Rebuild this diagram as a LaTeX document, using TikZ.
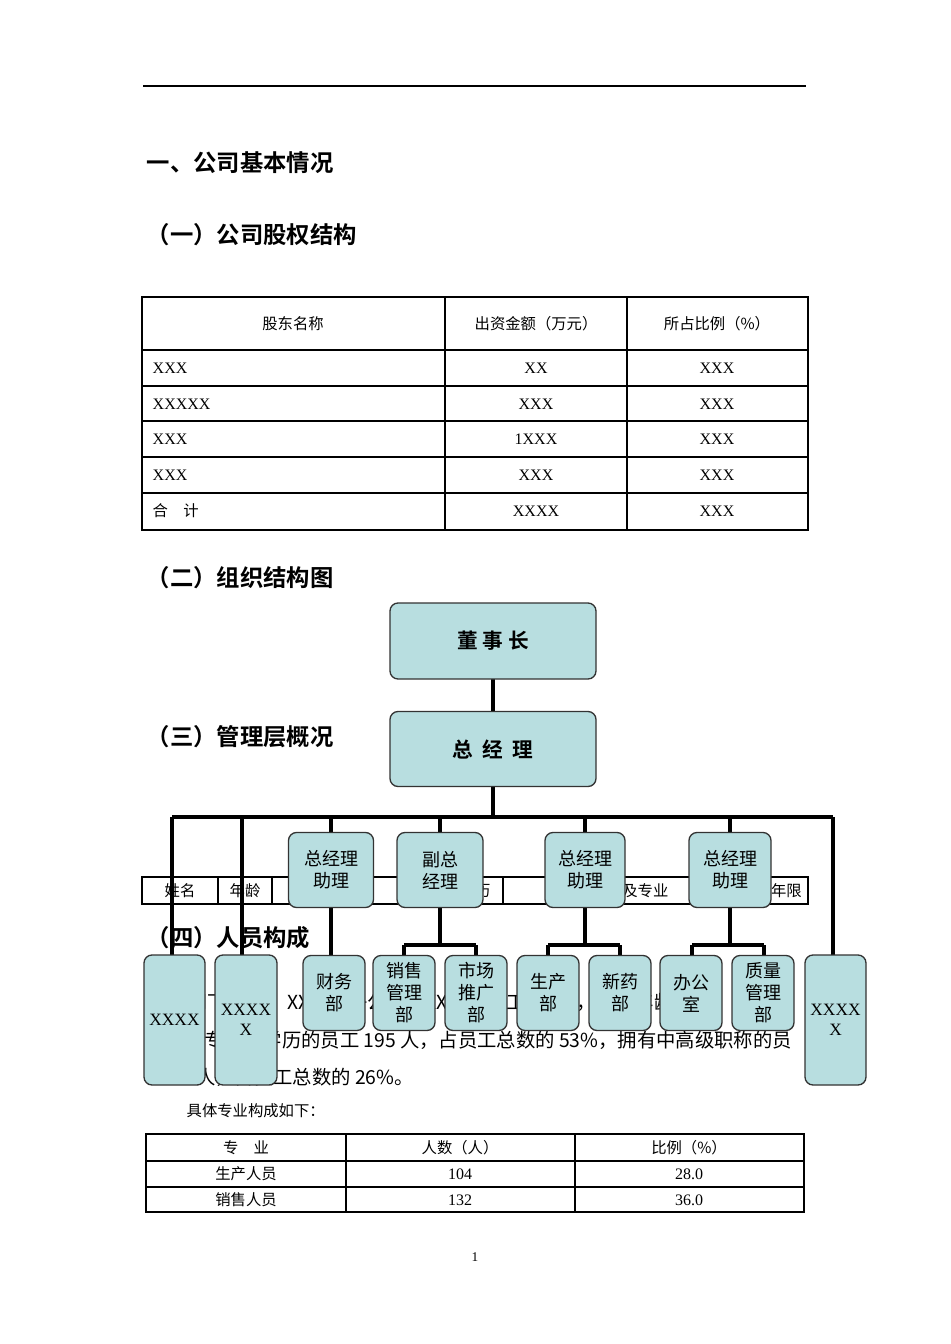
\documentclass[tikz,border=0pt]{standalone}
\usepackage{fontspec}
\setmainfont{Liberation Serif}
\newfontfamily\cjk{Noto Sans CJK SC}
\newfontfamily\cjkb{Noto Sans CJK SC Bold}
\begin{document}
\begin{tikzpicture}[x=0.75pt,y=-0.75pt,
  hd/.style={anchor=west,font=\cjkb\fontsize{17.5}{19}\selectfont},
  tx/.style={font=\cjk\fontsize{11.5}{12}\selectfont},
  bt/.style={font=\fontsize{12}{12}\selectfont},
  para/.style={anchor=west,font=\cjk\fontsize{14.5}{15}\selectfont},
  org/.style={draw=black!80,line width=1pt,fill={rgb,255:red,184;green,222;blue,224},rounded corners=6pt,inner sep=0pt,align=center},
  ot/.style={font=\cjk\fontsize{13.5}{16.5}\selectfont},
  conn/.style={line width=3pt}]
\useasboundingbox (0,0) rectangle (950,1344);
\fill[white] (0,0) rectangle (950,1344);
\draw[line width=0.8pt] (143,86) -- (806,86);
\node[hd] (h1) at (142,163) {一、公司基本情况};
\node[hd] (h2) at (142,235) {（一）公司股权结构};
% table 1
\draw[line width=1.5pt] (142,297) rectangle (808,530);
\foreach \y in {350,386,421,457,493} \draw[line width=0.8pt] (142,\y) -- (808,\y);
\foreach \x in {445,627} \draw[line width=0.8pt] (\x,297) -- (\x,530);
\node[tx] (c1) at (293,324) {股东名称};
\node[tx] (c2) at (536,324) {出资金额（万元）};
\node[tx] (c3) at (717,324) {所占比例（\%）};
\foreach \y/\a/\b [count=\i] in {368/XXX/XX,404/XXXXX/XXX,439/XXX/1XXX,475/XXX/XXX} {
  \node[bt,anchor=west] (ra\i) at (148,\y) {\a};
  \node[bt] (rb\i) at (536,\y) {\b};
  \node[bt] (rc\i) at (717,\y) {XXX};
}
\node[tx,anchor=west] (ra5) at (148,511) {合\quad 计};
\node[bt] (rb5) at (536,511) {XXXX};
\node[bt] (rc5) at (717,511) {XXX};
\node[hd] (h3) at (142,578) {（二）组织结构图};
\node[hd] (h4) at (142,737) {（三）管理层概况};
% table 2 header row
\draw[line width=1.5pt] (142,877) rectangle (808,904);
\foreach \x in {218,272,420,503,565,745} \draw[line width=0.8pt] (\x,877) -- (\x,904);
\node[tx] (t1) at (180,891) {姓名};
\node[tx] (t2) at (245,891) {年龄};
\node[tx] (t3) at (346,891) {职务};
\node[tx] (t4) at (475,891) {学历};
\node[tx] (t5) at (630,891) {职称及专业};
\node[tx] (t6) at (771,891) {工作年限};
\node[hd] (h5) at (142,938) {（四）人员构成};
\node[para] (p1) at (142,1002) {XX公司下属XX、XX两个子公司，XX现有员工370人，平均年龄35};
\node[para] (p2) at (142,1040) {其中大专以上学历的员工 195 人，占员工总数的 53\%，拥有中高级职称的员};
\node[para] (p3) at (142,1077) {工 96 人，占员工总数的 26\%。};
\node[tx,anchor=west] (p4) at (182,1111) {具体专业构成如下：};
% table 3
\draw[line width=1.5pt] (146,1134) rectangle (804,1212);
\foreach \y in {1161,1187} \draw[line width=0.8pt] (146,\y) -- (804,\y);
\foreach \x in {346,575} \draw[line width=0.8pt] (\x,1134) -- (\x,1212);
\node[tx] (u1) at (246,1148) {专\quad 业};
\node[tx] (u2) at (460,1148) {人数（人）};
\node[tx] (u3) at (689,1148) {比例（\%）};
\node[tx] (v1) at (246,1174) {生产人员};
\node[bt] (v2) at (460,1174) {104};
\node[bt] (v3) at (689,1174) {28.0};
\node[tx] (w1) at (246,1200) {销售人员};
\node[bt] (w2) at (460,1200) {132};
\node[bt] (w3) at (689,1200) {36.0};
\node[bt,font=\fontsize{10}{11}\selectfont] (pg) at (475,1257) {1};
% org chart lines
\draw[conn] (172,817) -- (833,817);
\draw[conn] (493,679) -- (493,817);
\draw[conn] (172,817) -- (172,955);
\draw[conn] (242,817) -- (242,955);
\draw[conn] (833,817) -- (833,955);
\foreach \x in {331,440,585,730} \draw[conn] (\x,817) -- (\x,833);
\draw[conn] (331,908) -- (331,955);
\draw[conn] (440,908) -- (440,945) (404,945) -- (476,945) (404,945) -- (404,955) (476,945) -- (476,955);
\draw[conn] (585,908) -- (585,945) (548,945) -- (620,945) (548,945) -- (548,955) (620,945) -- (620,955);
\draw[conn] (730,908) -- (730,945) (692,945) -- (764,945) (692,945) -- (692,955) (764,945) -- (764,955);
% boxes
\node[org,minimum width=206*0.75pt,minimum height=76*0.75pt,font=\cjkb\fontsize{15.5}{16}\selectfont] (dsz) at (493,641) {董\ 事\ 长};
\node[org,minimum width=206*0.75pt,minimum height=75*0.75pt,font=\cjkb\fontsize{15.5}{16}\selectfont] (zjl) at (493,749) {总\ \ 经\ \ 理};
\draw[conn] (dsz.south) -- (zjl.north);
\foreach \x/\w/\t [count=\i] in {331/85/总经理\\助理,440/86/副总\\经理,585/80/总经理\\助理,730/82/总经理\\助理}
  \node[org,ot,minimum width=\w*0.75pt,minimum height=75*0.75pt] (m\i) at (\x,870) {\t};
\foreach \x/\t [count=\i] in {334/财务\\部,404/销售\\管理\\部,476/市场\\推广\\部,548/生产\\部,620/新药\\部,691/办公\\室,763/质量\\管理\\部}
  \node[org,minimum width=62*0.75pt,minimum height=75*0.75pt,font=\cjk\fontsize{13.5}{16.5}\selectfont] (b\i) at (\x,993) {\t};
\node[org,minimum width=61*0.75pt,minimum height=130*0.75pt,font=\fontsize{13}{15}\selectfont] (x1) at (174.5,1020) {XXXX};
\node[org,minimum width=62*0.75pt,minimum height=130*0.75pt,font=\fontsize{13}{15}\selectfont] (x2) at (246,1020) {XXXX\\X};
\node[org,minimum width=61*0.75pt,minimum height=130*0.75pt,font=\fontsize{13}{15}\selectfont] (x3) at (835.5,1020) {XXXX\\X};
\end{tikzpicture}
\end{document}
